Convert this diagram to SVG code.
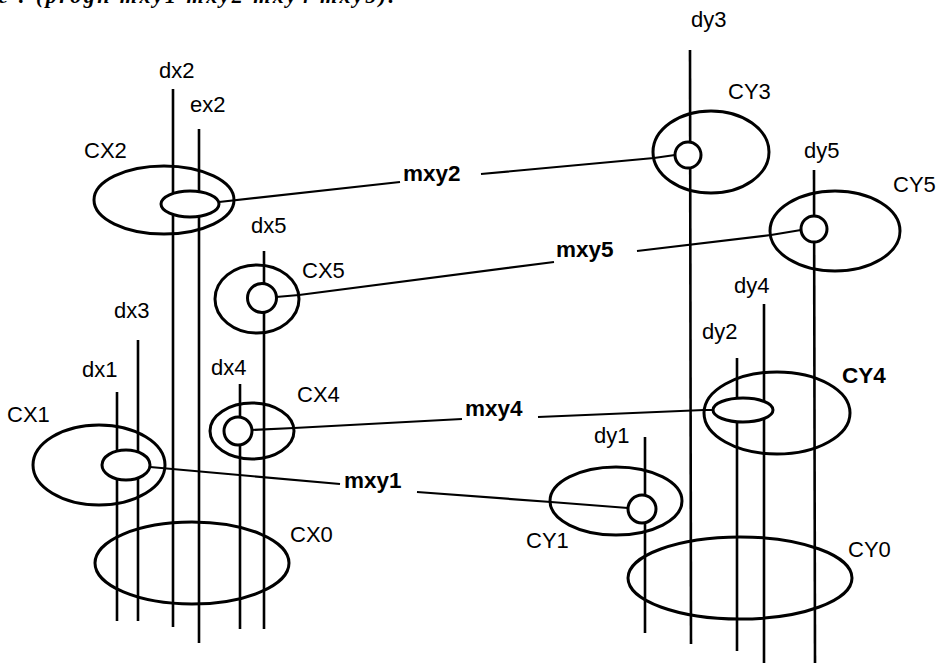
<svg xmlns="http://www.w3.org/2000/svg" width="942" height="663" viewBox="0 0 942 663">
<style>
  .bg{fill:#fff}
  .wire{stroke:#000;stroke-width:2.6;fill:none}
  .conn{stroke:#000;stroke-width:2.2;fill:none}
  .outer{stroke:#000;stroke-width:3;fill:none}
  .inner{stroke:#000;stroke-width:3;fill:#fff}
  .lbl{font-family:"Liberation Sans",Arial,sans-serif;font-size:22px;fill:#000}
  .blbl{font-family:"Liberation Sans",Arial,sans-serif;font-size:22.5px;font-weight:bold;fill:#000}
  .cap{font-family:"Liberation Serif","Times New Roman",serif;font-size:22px;font-style:italic;font-weight:bold;fill:#000}
</style>
<rect class="bg" x="0" y="0" width="942" height="663"/>
<text class="cap" x="-2" y="3" textLength="396">e : (progn mxy1 mxy2 mxy4 mxy5).</text>

<g id="wires">
  <g id="dx1"><line class="wire" x1="117" y1="392" x2="117" y2="621"/><text class="lbl" x="82" y="377">dx1</text></g>
  <g id="dx2"><line class="wire" x1="173" y1="89" x2="173" y2="627"/><text class="lbl" x="159" y="78">dx2</text></g>
  <g id="ex2"><line class="wire" x1="199" y1="129" x2="199" y2="643"/><text class="lbl" x="190" y="112">ex2</text></g>
  <g id="dx3"><line class="wire" x1="138" y1="340" x2="138" y2="621"/><text class="lbl" x="114" y="318">dx3</text></g>
  <g id="dx4"><line class="wire" x1="240" y1="384" x2="240" y2="629"/><text class="lbl" x="211" y="375">dx4</text></g>
  <g id="dx5"><line class="wire" x1="264" y1="251" x2="264" y2="629"/><text class="lbl" x="251" y="233">dx5</text></g>
  <g id="dy1"><line class="wire" x1="645" y1="437" x2="645" y2="633"/><text class="lbl" x="594" y="443">dy1</text></g>
  <g id="dy2"><line class="wire" x1="737" y1="358" x2="737" y2="651"/><text class="lbl" x="702" y="339">dy2</text></g>
  <g id="dy3"><line class="wire" x1="690" y1="50" x2="691" y2="644"/><text class="lbl" x="691" y="27">dy3</text></g>
  <g id="dy4"><line class="wire" x1="764" y1="304" x2="764" y2="663"/><text class="lbl" x="734" y="293">dy4</text></g>
  <g id="dy5"><line class="wire" x1="814" y1="170" x2="815" y2="663"/><text class="lbl" x="804" y="158">dy5</text></g>
</g>

<g id="connectors">
  <polyline class="conn" points="219,202 400,182"/>
  <polyline class="conn" points="481,174 654,158 675,155"/>
  <polyline class="conn" points="276,297 299,295 554,262"/>
  <polyline class="conn" points="637,251 771,235 801,230"/>
  <polyline class="conn" points="251,430 294,428 462,419"/>
  <polyline class="conn" points="538,417 704,410 713,410"/>
  <polyline class="conn" points="150,467 340,484"/>
  <polyline class="conn" points="417,492 551,502 628,508"/>
  <text class="blbl" x="403" y="181">mxy2</text>
  <text class="blbl" x="556" y="257">mxy5</text>
  <text class="blbl" x="465" y="416">mxy4</text>
  <text class="blbl" x="344" y="488">mxy1</text>
</g>

<g id="CX0"><ellipse class="outer" cx="192" cy="563" rx="97" ry="41"/><text class="lbl" x="290" y="542">CX0</text></g>
<g id="CX1"><ellipse class="outer" cx="99" cy="465" rx="66" ry="40"/><ellipse class="inner" cx="126" cy="465" rx="24" ry="15"/><text class="lbl" x="7" y="422">CX1</text></g>
<g id="CX2"><ellipse class="outer" cx="164" cy="200" rx="70" ry="34"/><ellipse class="inner" cx="190" cy="204" rx="29" ry="13"/><text class="lbl" x="84" y="158">CX2</text></g>
<g id="CX4"><ellipse class="outer" cx="252" cy="431" rx="42" ry="28"/><circle class="inner" cx="238" cy="431" r="14"/><text class="lbl" x="297" y="402">CX4</text></g>
<g id="CX5"><ellipse class="outer" cx="257" cy="299" rx="42" ry="34"/><circle class="inner" cx="262" cy="298" r="14.5"/><text class="lbl" x="302" y="278">CX5</text></g>
<g id="CY0"><ellipse class="outer" cx="740" cy="578" rx="112" ry="41"/><text class="lbl" x="848" y="557">CY0</text></g>
<g id="CY1"><ellipse class="outer" cx="616" cy="501" rx="66" ry="34"/><circle class="inner" cx="642" cy="509" r="14"/><text class="lbl" x="526" y="548">CY1</text></g>
<g id="CY3"><ellipse class="outer" cx="711" cy="152" rx="58" ry="41"/><circle class="inner" cx="688" cy="155" r="13"/><text class="lbl" x="728" y="99">CY3</text></g>
<g id="CY4"><ellipse class="outer" cx="777" cy="413" rx="73" ry="41"/><ellipse class="inner" cx="743" cy="410" rx="30" ry="12"/><text class="blbl" x="842" y="383">CY4</text></g>
<g id="CY5"><ellipse class="outer" cx="835" cy="231" rx="65" ry="40"/><circle class="inner" cx="814" cy="229" r="13"/><text class="lbl" x="893" y="192">CY5</text></g>
</svg>
